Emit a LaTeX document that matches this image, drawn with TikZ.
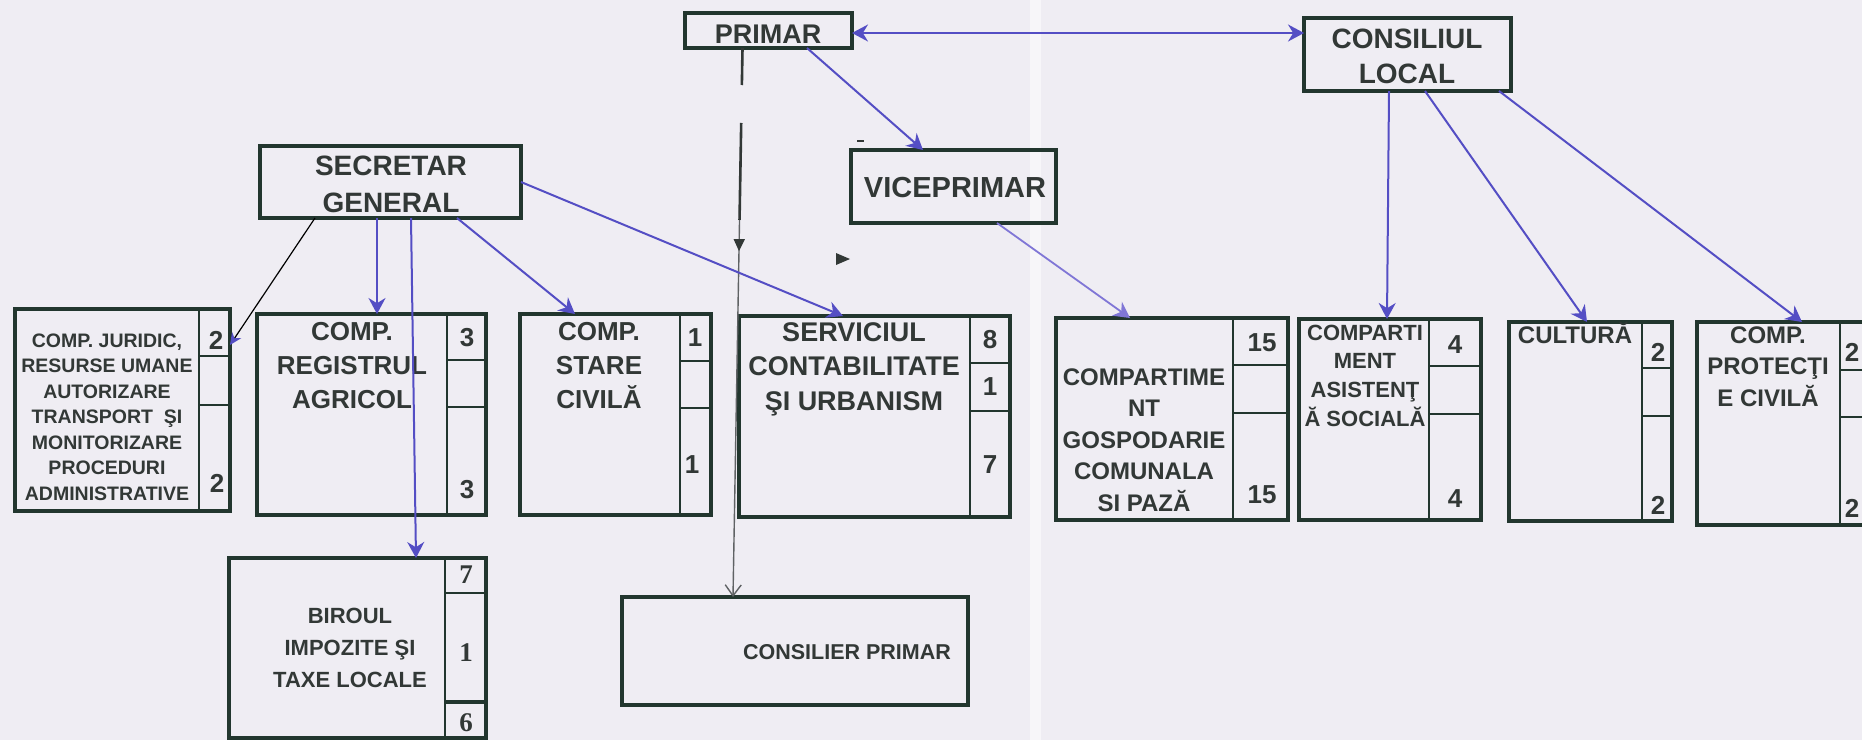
\documentclass[tikz,border=0pt]{standalone}
\usepackage{fontspec}
\setmainfont{Liberation Sans}
\newfontfamily\numserif{Liberation Serif}
\usetikzlibrary{arrows.meta,decorations.markings}

\definecolor{bg}{RGB}{239,237,243}
\definecolor{ink}{RGB}{50,56,54}
\definecolor{frame}{RGB}{34,54,46}
\definecolor{pen}{RGB}{84,78,196}
\definecolor{penlight}{RGB}{128,118,214}
\definecolor{greyline}{RGB}{95,98,100}

\newcommand{\fs}[2]{\fontsize{#1}{#2}\selectfont\bfseries}
\newcommand{\ml}[1]{\begin{tabular}[t]{@{}c@{}}#1\end{tabular}}
% name, x1, y1, x2, y2, column x, row1 y, row2 y
\newcommand{\obox}[8]{%
  \node[box, minimum width={#4-#2}, minimum height={#5-#3}] (#1) at (#2,#3) {};
  \draw[div] (#6,#3) -- (#6,#5);
  \draw[div] (#6,#7) -- (#4,#7);
  \draw[div] (#6,#8) -- (#4,#8);
}

\begin{document}
\begin{tikzpicture}[x=1pt,y=-1pt,
  box/.style={draw=frame, line width=4.5pt, inner sep=0pt, outer sep=0pt, anchor=north west, rectangle},
  div/.style={draw=frame, line width=2pt},
  txt/.style={inner sep=0pt, anchor=base, text=ink},
  num/.style={inner sep=0pt, anchor=center, text=ink, font=\fs{26}{30}},
  bnum/.style={inner sep=0pt, anchor=center, text=ink, font=\numserif\fs{27}{30}},
  link/.style={draw=pen, line width=2pt, -{Stealth[length=16pt,width=17pt]}},
  linkfaint/.style={draw=penlight, line width=1.8pt, -{Stealth[length=16pt,width=17pt]}}
]
\useasboundingbox (0,0) rectangle (1862,740);
\clip (0,0) rectangle (1862,740);
\fill[bg] (0,0) rectangle (1862,740);
\fill[white, opacity=0.55] (1030,0) rectangle (1041,740);

% --- top level boxes
\node[box, minimum width=167, minimum height=35] (pri) at (685,13) {};
\node[txt, font=\fs{27}{32}] (t-pri) at (768,43) {PRIMAR};
\node[box, minimum width=207, minimum height=73] (cl) at (1304,18) {};
\node[txt, font=\fs{28}{35}] (t-cl) at (1407,48) {\ml{CONSILIUL\\LOCAL}};
\node[box, minimum width=261, minimum height=72] (sec) at (260,146) {};
\node[txt, font=\fs{28}{37}] (t-sec) at (391,175) {\ml{SECRETAR\\GENERAL}};
\node[box, minimum width=205, minimum height=73] (vic) at (851,150) {};
\node[txt, font=\fs{29}{34}] (t-vic) at (955,197) {VICEPRIMAR};

% --- departments
\obox{jur}{15}{309}{230}{511}{199}{356}{405}
\node[txt, font=\fs{19.5}{25.5}] (t-jur) at (107,347) {\ml{COMP. JURIDIC,\\RESURSE UMANE\\AUTORIZARE\\TRANSPORT\ \ ŞI\\MONITORIZARE\\PROCEDURI\\ADMINISTRATIVE}};
\node[num] (n-jur1) at (216,340) {2};
\node[num] (n-jur3) at (217,483) {2};

\obox{reg}{257}{314}{486}{515}{447}{360}{407}
\node[txt, font=\fs{26}{34}] (t-reg) at (352,340) {\ml{COMP.\\REGISTRUL\\AGRICOL}};
\node[num] (n-reg1) at (467,338) {3};
\node[num] (n-reg3) at (467,490) {3};

\obox{sta}{520}{314}{711}{515}{680}{361}{408}
\node[txt, font=\fs{26}{34}] (t-sta) at (599,340) {\ml{COMP.\\STARE\\CIVILĂ}};
\node[num] (n-sta1) at (695,338) {1};
\node[num] (n-sta3) at (692,465) {1};

\obox{ser}{739}{316}{1010}{517}{970}{363}{411}
\node[txt, font=\fs{27}{34.5}] (t-ser) at (854,341) {\ml{SERVICIUL\\CONTABILITATE\\ŞI URBANISM}};
\node[num] (n-ser1) at (990,340) {8};
\node[num] (n-ser2) at (990,387) {1};
\node[num] (n-ser3) at (990,465) {7};

\obox{gos}{1056}{318}{1288}{520}{1233}{365}{413}
\node[txt, font=\fs{24}{31.5}] (t-gos) at (1144,385) {\ml{COMPARTIME\\NT\\GOSPODARIE\\COMUNALA\\SI PAZĂ}};
\node[num] (n-gos1) at (1262,343) {15};
\node[num] (n-gos3) at (1262,495) {15};

\obox{asi}{1299}{319}{1481}{520}{1429}{366}{414}
\node[txt, font=\fs{22}{28.7}] (t-asi) at (1365,340) {\ml{COMPARTI\\MENT\\ASISTENŢ\\Ă SOCIALĂ}};
\node[num] (n-asi1) at (1455,345) {4};
\node[num] (n-asi3) at (1455,499) {4};

\obox{cul}{1509}{322}{1672}{521}{1642}{368}{416}
\node[txt, font=\fs{24}{30}] (t-cul) at (1575,343) {CULTURĂ};
\node[num] (n-cul1) at (1658,352) {2};
\node[num] (n-cul3) at (1658,505) {2};

\obox{pro}{1697}{322}{1905}{525}{1840}{370}{417}
\node[txt, font=\fs{24}{31.5}] (t-pro) at (1768,343) {\ml{COMP.\\PROTECŢI\\E CIVILĂ}};
\node[num] (n-pro1) at (1852,352) {2};
\node[num] (n-pro3) at (1852,508) {2};

% --- BIROUL
\node[box, minimum width=257, minimum height=180] (bir) at (229,558) {};
\draw[div] (445,558) -- (445,738);
\draw[div] (445,593) -- (486,593);
\draw[draw=frame, line width=4pt] (445,702) -- (486,702);
\node[txt, font=\fs{22}{32}] (t-bir) at (350,623) {\ml{BIROUL\\IMPOZITE ŞI\\TAXE LOCALE}};
\node[bnum] (n-bir1) at (466,575) {7};
\node[bnum] (n-bir2) at (466,653) {1};
\node[bnum] (n-bir3) at (466,723) {6};

% --- CONSILIER PRIMAR
\node[box, minimum width=346, minimum height=108] (con) at (622,597) {};
\node[inner sep=0pt, anchor=center, text=ink, font=\fs{21.5}{26}] (t-con) at (847,652) {CONSILIER PRIMAR};

% --- connectors
\draw[link, {Stealth[length=16pt,width=17pt]}-{Stealth[length=16pt,width=17pt]}]
  ([yshift=-2.5pt]pri.east) -- ([yshift=21.5pt]cl.west);
\draw[link] ([xshift=122pt]pri.south west) -- ([xshift=72pt]vic.north west);

\draw[greyline, line width=1.4pt, dash pattern=on 37pt off 38pt on 2000pt,
  -{Straight Barb[length=11pt,width=16pt]},
  postaction={decorate},
  decoration={markings, mark=at position 0.37 with {\arrow{Triangle[length=12pt,width=11pt,color=ink]}}}]
  ([xshift=-26pt]pri.south) -- ([xshift=111pt]con.north west);
\draw[ink, line width=2.6pt, dash pattern=on 37pt off 38pt on 97pt off 2000pt]
  ([xshift=-26pt]pri.south) -- ([xshift=111pt]con.north west);

\draw[black, line width=1.2pt, -{Stealth[length=12pt,width=11pt,color=pen]}]
  ([xshift=55pt]sec.south west) -- ([yshift=-36pt]jur.north east);
\draw[link] ([xshift=117pt]sec.south west) -- ([xshift=120pt]reg.north west);
\draw[link] ([xshift=151pt]sec.south west) -- ([xshift=187pt]bir.north west);
\draw[link] ([xshift=197pt]sec.south west) -- ([xshift=55pt]sta.north west);
\draw[link] (sec.east) -- ([xshift=104pt]ser.north west);

\draw[linkfaint] ([xshift=146pt]vic.south west) -- ([xshift=74pt]gos.north west);

\draw[link] ([xshift=85pt]cl.south west) -- ([xshift=88pt]asi.north west);
\draw[link] ([xshift=121pt]cl.south west) -- ([xshift=78pt]cul.north west);
\draw[link] ([xshift=195pt]cl.south west) -- ([xshift=105pt]pro.north west);

% small stray marks of the original
\fill[ink] (836,253) -- (850,259) -- (836,265) -- cycle;
\draw[ink, line width=2pt] (857,141) -- (864,141);
\end{tikzpicture}
\end{document}
